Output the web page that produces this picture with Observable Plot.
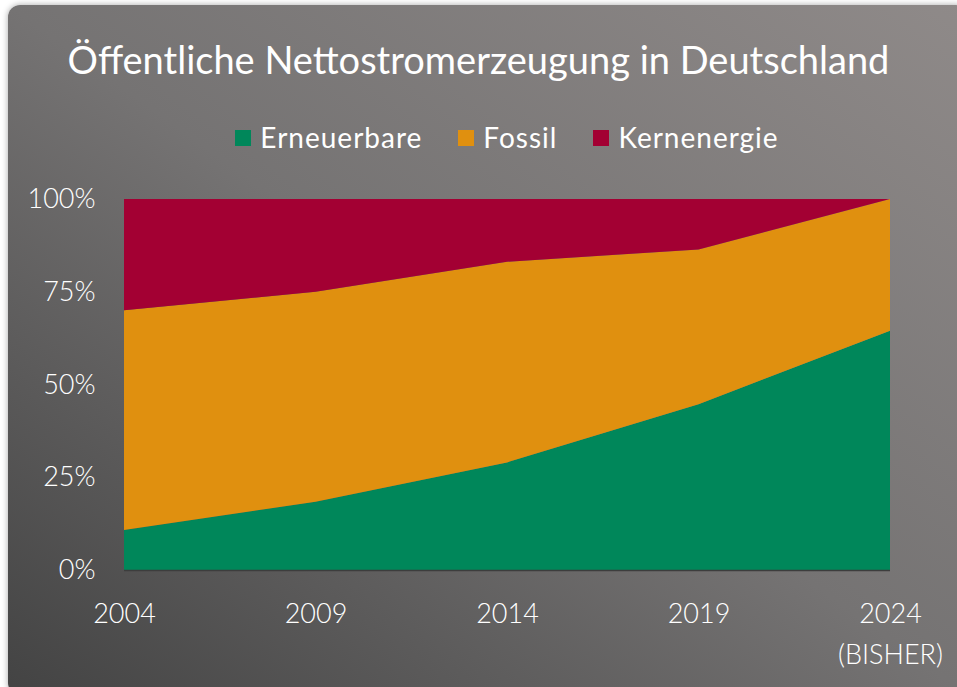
<!DOCTYPE html>
<html>
<head>
<meta charset="utf-8">
<script src="https://cdn.jsdelivr.net/npm/d3@7"></script>
<script src="https://cdn.jsdelivr.net/npm/@observablehq/plot@0.6"></script>
<style>
  html, body { margin: 0; padding: 0; background: #ffffff; width: 957px; height: 687px; overflow: hidden; }
  #card {
    position: absolute; left: 8px; top: 5px; width: 960px; height: 690px;
    border-radius: 12px;
    background: linear-gradient(to top right, #434343 0%, #5c5b5b 25%, #757373 50%, #8f8a89 100%);
    box-shadow: 0 0 6px rgba(0,0,0,0.35);
  }
  #title {
    position: absolute; left: 0; width: 957px; top: 36px; text-align: center;
    font-family: Lato, sans-serif; font-weight: 400; font-size: 38px; line-height: normal; color: #ffffff;
    white-space: nowrap;
  }
  #legend {
    position: absolute; left: 124px; width: 766px; top: 120px; display: flex; justify-content: center;
    font-family: Lato, sans-serif; font-weight: 400; font-size: 28px; letter-spacing: 1px; line-height: normal; color: #ffffff;
  }
  .item { display: flex; align-items: center; margin-right: 36px; }
  .item:last-child { margin-right: 0; }
  .sw { width: 16px; height: 16px; margin-right: 9px; margin-top: 2px; }
  #chart { position: absolute; left: 0; top: 180px; }
</style>
</head>
<body>
<div id="card"></div>
<div id="title">Öffentliche Nettostromerzeugung in Deutschland</div>
<div id="legend"></div>
<div id="chart"></div>
<script>
const years = [2004, 2009, 2014, 2019, 2024];
const categories = ["Erneuerbare", "Fossil", "Kernenergie"];
const colors = ["#00875a", "#e0900f", "#a30033"];
const erneuerbare = [10.8, 18.4, 29.0, 44.7, 64.5];
const fossil = [59.2, 56.6, 54.1, 41.7, 35.5];
const kernenergie = [30.0, 25.0, 16.9, 13.6, 0.0];
const yTicks = [0, 25, 50, 75, 100];
const yTickLabels = ["0%", "25%", "50%", "75%", "100%"];
const xTickLabels = ["2004", "2009", "2014", "2019", "2024\n(BISHER)"];

const series = [erneuerbare, fossil, kernenergie];
const data = [];
categories.forEach((c, i) => years.forEach((y, j) => data.push({year: y, type: c, value: series[i][j]})));

// legend
const legend = document.getElementById("legend");
categories.forEach((c, i) => {
  const it = document.createElement("div");
  it.className = "item";
  it.innerHTML = `<span class="sw" style="background:${colors[i]}"></span><span>${c}</span>`;
  legend.appendChild(it);
});

const chart = Plot.plot({
  width: 957,
  height: 507,
  marginLeft: 124,
  marginRight: 67,
  marginTop: 19,
  marginBottom: 117,
  style: { fontFamily: "Lato, sans-serif", fontSize: "27px", color: "#ffffff", background: "transparent", overflow: "visible" },
  x: { type: "linear", domain: [2004, 2024] },
  y: { domain: [0, 100] },
  color: { domain: categories, range: colors },
  marks: [
    Plot.ruleY([100], { stroke: "#a9a6a6", strokeWidth: 1 }),
    Plot.areaY(data, { x: "year", y: "value", fill: "type", order: categories, z: "type" }),
    Plot.ruleY([0], { stroke: "#3d3d3d", strokeWidth: 1.5 }),
    Plot.axisY({ ticks: yTicks, tickFormat: (d) => yTickLabels[yTicks.indexOf(d)], tickSize: 0, tickPadding: 29, label: null, fontSize: 27, fontWeight: 300, fill: "#ffffff" }),
    Plot.axisX({ ticks: years, tickFormat: (d) => xTickLabels[years.indexOf(d)], tickSize: 0, tickPadding: 24, label: null, fontSize: 27, fontWeight: 300, fill: "#ffffff", lineHeight: 1.5 })
  ]
});
document.getElementById("chart").appendChild(chart);
</script>
</body>
</html>
